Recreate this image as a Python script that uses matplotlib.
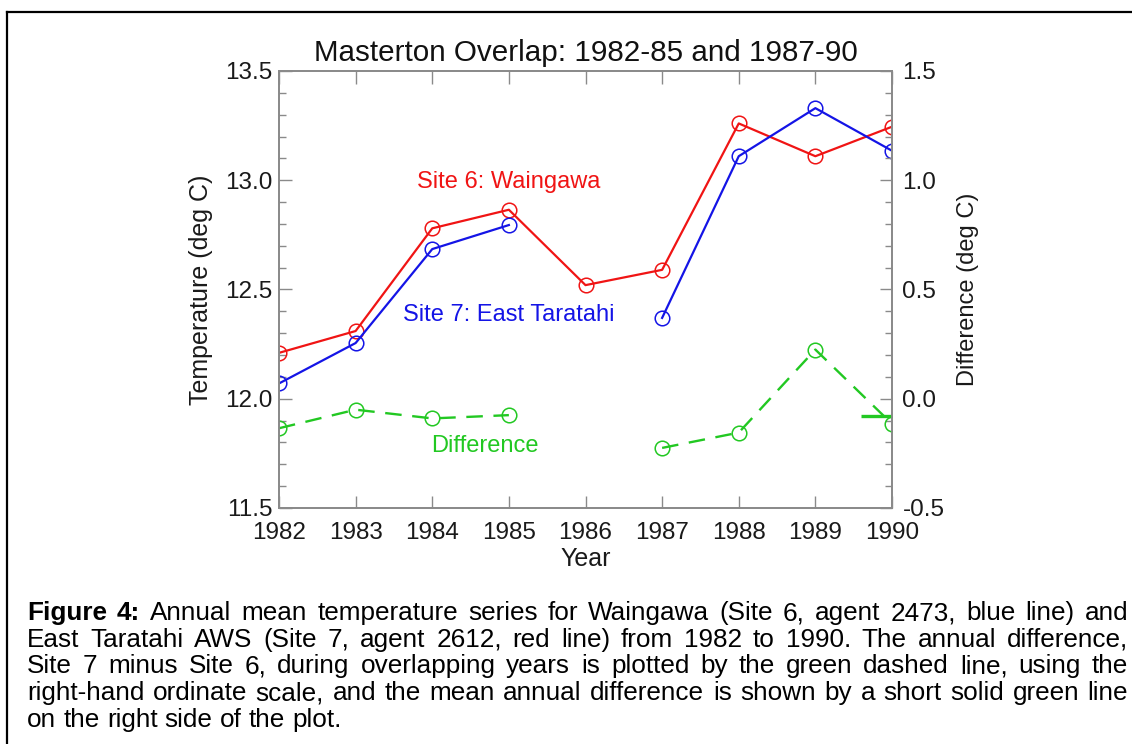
import numpy as np
import matplotlib
matplotlib.use("Agg")
import matplotlib.pyplot as plt
from matplotlib.lines import Line2D
from matplotlib.ticker import MultipleLocator, FormatStrFormatter

plt.rcParams["font.family"] = ["Liberation Sans", "DejaVu Sans"]

years = [1982, 1983, 1984, 1985, 1986, 1987, 1988, 1989, 1990]
site6_temp = [12.21, 12.31, 12.78, 12.865, 12.52, 12.59, 13.26, 13.11, 13.245]
site7_temp = [12.07, 12.255, 12.685, 12.795, np.nan, 12.37, 13.11, 13.33, 13.135]
difference = [-0.135, -0.05, -0.09, -0.075, np.nan, -0.225, -0.155, 0.225, -0.115]
mean_diff = -0.08
mean_diff_years = [1989.6, 1990.0]

title = "Masterton Overlap: 1982-85 and 1987-90"
caption_lines = [
    [("Figure", "bold"), ("4:", "bold"), "Annual mean temperature series for Waingawa (Site 6, agent 2473, blue line) and"],
    ["East Taratahi AWS (Site 7, agent 2612, red line) from 1982 to 1990. The annual difference,"],
    ["Site 7 minus Site 6, during overlapping years is plotted by the green dashed line, using the"],
    ["right-hand ordinate scale, and the mean annual difference is shown by a short solid green line"],
    ["on the right side of the plot."],
]

RED = "#f01414"
BLUE = "#1414e6"
GREEN = "#22c822"
FRAME = "#8a8a8a"
INK = "#1a1a1a"
W, H = 1132, 744

fig = plt.figure(figsize=(W / 100, H / 100), dpi=100)
ax = fig.add_axes([279 / W, 1 - 508 / H, 613 / W, 437 / H])
ax2 = ax.twinx()

ax.plot(years, site6_temp, color=RED, lw=1.6, marker="o", ms=10.5, mfc="none", mec=RED, mew=1.1)
ax.plot(years, site7_temp, color=BLUE, lw=1.6, marker="o", ms=10.5, mfc="none", mec=BLUE, mew=1.1)
ax2.plot(years, difference, color=GREEN, lw=1.7, ls=(0, (7, 4.5)), marker="o", ms=10.5, mfc="none", mec=GREEN, mew=1.1)
ax2.plot(mean_diff_years, [mean_diff, mean_diff], color=GREEN, lw=2.4, solid_capstyle="butt")

ax.set_xlim(1982, 1990)
ax.set_ylim(11.5, 13.5)
ax2.set_ylim(-0.5, 1.5)
ax.xaxis.set_major_locator(MultipleLocator(1))
ax.yaxis.set_major_locator(MultipleLocator(0.5))
ax.yaxis.set_minor_locator(MultipleLocator(0.1))
ax.yaxis.set_major_formatter(FormatStrFormatter("%.1f"))
ax2.yaxis.set_major_locator(MultipleLocator(0.5))
ax2.yaxis.set_minor_locator(MultipleLocator(0.1))
ax2.yaxis.set_major_formatter(FormatStrFormatter("%.1f"))

for a in (ax, ax2):
    for sp in a.spines.values():
        sp.set_color(FRAME)
        sp.set_linewidth(1.3)
ax.tick_params(axis="x", which="major", direction="in", top=True, length=9, width=1,
               color=FRAME, labelsize=17.5, pad=10, labelcolor=INK)
ax.tick_params(axis="y", which="major", direction="in", right=False, length=9, width=1,
               color=FRAME, labelsize=17.5, pad=4.5, labelcolor=INK)
ax.tick_params(axis="y", which="minor", direction="in", right=False, length=5, width=1, color=FRAME)
ax2.tick_params(axis="y", which="major", direction="in", length=9, width=1,
                color=FRAME, labelsize=17.5, pad=7.5, labelcolor=INK)
ax2.tick_params(axis="y", which="minor", direction="in", length=5, width=1, color=FRAME)

ax.set_xlabel("Year", fontsize=18, color=INK, labelpad=2)
ax.set_ylabel("Temperature (deg C)", fontsize=18, color=INK, labelpad=9)
ax2.set_ylabel("Difference (deg C)", fontsize=17, color=INK, labelpad=9)
ax.set_title(title, fontsize=21.3, color="#111111", pad=7)

ax.text(1985.0, 12.99, "Site 6: Waingawa", color=RED, fontsize=17, ha="center", va="center")
ax.text(1985.0, 12.385, "Site 7: East Taratahi", color=BLUE, fontsize=17, ha="center", va="center")
ax.text(1984.69, 11.784, "Difference", color=GREEN, fontsize=17, ha="center", va="center")

# page border: top and left rule only
fig.add_artist(Line2D([7 / W, 1.0], [1 - 12 / H, 1 - 12 / H], color="black", lw=1.6))
fig.add_artist(Line2D([7 / W, 7 / W], [1 - 12 / H, 0.0], color="black", lw=1.6))

# justified caption, word by word
renderer = fig.canvas.get_renderer()
left_px, right_px = 27, 1128
baseline0, line_step = 620, 26.7


def words_of(line):
    out = []
    for part in line:
        if isinstance(part, tuple):
            out.append(part)
        else:
            out.extend((w, "normal") for w in part.split())
    return out


def width_px(s, size, weight="normal"):
    t = fig.text(0, 0, s, fontsize=size, fontweight=weight)
    w = t.get_window_extent(renderer).width
    t.remove()
    return w


probe = 16.0
first = words_of(caption_lines[0])
nat = sum(width_px(w, probe, wt) for w, wt in first) + (len(first) - 1) * (
    width_px("a a", probe) - width_px("aa", probe))
cap_size = 0.965 * probe * (right_px - left_px) / nat
space = width_px("a a", cap_size) - width_px("aa", cap_size)

for i, line in enumerate(caption_lines):
    words = words_of(line)
    texts = [fig.text(0, 0, w, fontsize=cap_size, fontweight=wt, color="black", va="baseline")
             for w, wt in words]
    widths = [t.get_window_extent(renderer).width for t in texts]
    if i < len(caption_lines) - 1:
        gap = (right_px - left_px - sum(widths)) / (len(words) - 1)
    else:
        gap = space
    x = left_px
    y = 1 - (baseline0 + i * line_step) / H
    for t, w in zip(texts, widths):
        t.set_position((x / W, y))
        x += w + gap

fig.savefig("out.png", dpi=100)
